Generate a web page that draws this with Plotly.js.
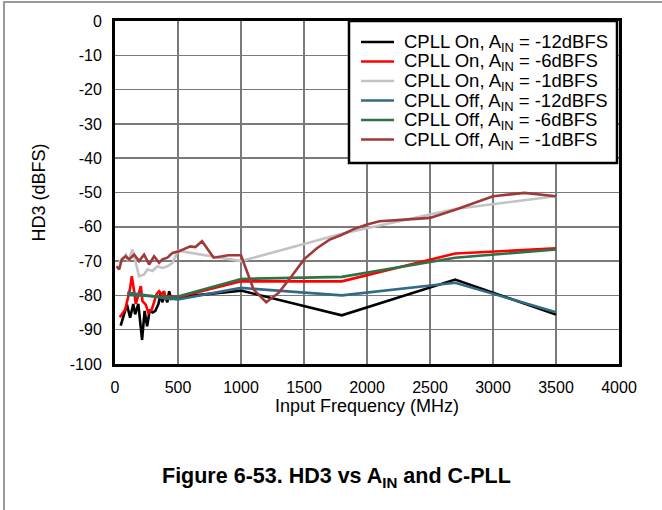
<!DOCTYPE html>
<html>
<head>
<meta charset="utf-8">
<script src="https://cdn.plot.ly/plotly-3.0.1.min.js"></script>
<style>
  html, body { margin: 0; padding: 0; background: #fff; }
  #wrap { position: relative; width: 662px; height: 510px; }
  #chart { width: 662px; height: 510px; }
  #frame { position: absolute; left: 3px; top: 1px; width: 680px; height: 520px;
           border-top: 2px solid #9a9a9a; border-left: 2px solid #9a9a9a; pointer-events: none; }
</style>
</head>
<body>
<div id="wrap"><div id="chart"></div><div id="frame"></div></div>
<script>
// Series names
const seriesNames = [
  'CPLL On, A<sub>IN</sub> = -12dBFS',
  'CPLL On, A<sub>IN</sub> = -6dBFS',
  'CPLL On, A<sub>IN</sub> = -1dBFS',
  'CPLL Off, A<sub>IN</sub> = -12dBFS',
  'CPLL Off, A<sub>IN</sub> = -6dBFS',
  'CPLL Off, A<sub>IN</sub> = -1dBFS'
];
const seriesColors = ['#000000', '#ff0000', '#c3c3c3', '#336a85', '#2f7248', '#a03a3a'];

// CPLL On, -12 dBFS
const onM12_x = [45, 95, 120, 145, 160, 185, 215, 235, 255, 275, 300, 320, 345, 360, 375, 395, 415, 430, 445, 500, 1000, 1800, 2700, 3500];
const onM12_y = [-88.8, -82.7, -86.5, -82.5, -85.5, -82.5, -93.0, -84.5, -89.0, -84.5, -85.0, -84.5, -82.5, -79.5, -82.0, -80.0, -82.0, -78.8, -81.0, -80.5, -78.6, -85.8, -75.4, -85.6];
// CPLL On, -6 dBFS
const onM6_x = [38, 81, 118, 133, 152, 165, 205, 218, 244, 265, 292, 310, 329, 350, 371, 390, 403, 429, 500, 1000, 1800, 2700, 3500];
const onM6_y = [-86.4, -84.1, -78.3, -74.4, -78.8, -82.5, -77.3, -81.7, -82.7, -85.1, -84.1, -82.2, -79.7, -78.8, -79.7, -78.8, -81.2, -80.2, -80.5, -75.9, -75.9, -67.8, -66.3];
// CPLL On, -1 dBFS
const onM1_x = [30, 86, 105, 139, 191, 231, 258, 297, 337, 376, 416, 456, 500, 1000, 1800, 2700, 3500];
const onM1_y = [-70.5, -68.1, -70.0, -66.6, -74.4, -73.9, -72.4, -72.9, -71.5, -72.0, -71.5, -70.5, -67.0, -70.0, -62.0, -54.8, -51.1];
// CPLL Off, -12 dBFS
const offM12_x = [97, 200, 300, 400, 500, 1000, 1800, 2700, 3500];
const offM12_y = [-79.2, -79.8, -80.3, -80.8, -81.2, -77.8, -80.0, -76.3, -84.9];
// CPLL Off, -6 dBFS
const offM6_x = [97, 200, 300, 400, 450, 500, 1000, 1800, 2700, 3500];
const offM6_y = [-79.9, -80.0, -80.2, -80.4, -80.6, -80.3, -75.2, -74.6, -69.0, -66.6];
// CPLL Off, -1 dBFS
const offM1_x = [12, 33, 54, 86, 112, 152, 191, 231, 271, 310, 350, 376, 416, 456, 508, 545, 598, 638, 691, 783, 900, 1000, 1100, 1200, 1300, 1400, 1500, 1600, 1700, 1800, 1900, 2000, 2100, 2300, 2500, 2700, 3000, 3250, 3500];
const offM1_y = [-71.5, -72.4, -69.5, -68.6, -69.5, -68.1, -70.0, -68.1, -71.0, -68.6, -70.5, -69.5, -69.0, -67.6, -67.1, -66.6, -65.7, -65.9, -64.2, -69.0, -68.3, -68.3, -78.3, -82.0, -79.2, -74.5, -69.5, -66.3, -63.8, -62.3, -60.6, -59.3, -58.4, -57.9, -57.4, -55.0, -51.1, -50.1, -51.1];

const xTicks = [0, 500, 1000, 1500, 2000, 2500, 3000, 3500, 4000];
const yTicks = [0, -10, -20, -30, -40, -50, -60, -70, -80, -90, -100];

const xs = [onM12_x, onM6_x, onM1_x, offM12_x, offM6_x, offM1_x];
const ys = [onM12_y, onM6_y, onM1_y, offM12_y, offM6_y, offM1_y];

const traces = xs.map((x, i) => ({
  x: x, y: ys[i], type: 'scatter', mode: 'lines', name: seriesNames[i],
  line: { color: seriesColors[i], width: 2.6 }
}));

const font = 'Liberation Sans, Arial, Helvetica, sans-serif';

// Legend drawn in paper coordinates (plot area is 504 x 343 px)
const PW = 504, PH = 343;
const px2x = p => p / PW;          // px offset from plot left -> paper
const py2y = p => 1 - p / PH;      // px offset from plot top -> paper
const legLeft = 234, legRight = 502, legBottom = 142;
const shapes = [{
  type: 'rect', xref: 'paper', yref: 'paper', layer: 'above',
  x0: px2x(legLeft), x1: px2x(legRight), y0: py2y(legBottom), y1: 1,
  fillcolor: '#ffffff', line: { color: '#000', width: 2.5 }
}];
const annotations = [];
seriesNames.forEach((name, i) => {
  const rowPx = 21 + i * 19.5;
  shapes.push({
    type: 'line', xref: 'paper', yref: 'paper', layer: 'above',
    x0: px2x(246), x1: px2x(279), y0: py2y(rowPx), y1: py2y(rowPx),
    line: { color: seriesColors[i], width: 2.6 }
  });
  annotations.push({
    xref: 'paper', yref: 'paper', x: px2x(287), y: py2y(rowPx), yshift: -1,
    xanchor: 'left', yanchor: 'middle', showarrow: false, text: name,
    font: { family: font, size: 18.5, color: '#000' }
  });
});
annotations.push({
  xref: 'paper', yref: 'paper', x: 0.4385, y: -0.331, xanchor: 'center', yanchor: 'middle',
  text: '<b>Figure 6-53. HD3 vs A<sub>IN</sub> and C-PLL</b>', showarrow: false,
  font: { family: font, size: 21.5, color: '#000' }
});

const layout = {
  width: 662, height: 510,
  margin: { l: 115, r: 43, t: 21, b: 146 },
  paper_bgcolor: '#ffffff', plot_bgcolor: '#ffffff',
  font: { family: font, color: '#000', size: 16 },
  showlegend: false,
  xaxis: {
    range: [0, 4000], tickvals: xTicks, ticktext: xTicks.map(String),
    showgrid: true, gridcolor: '#7a7a7a', gridwidth: 1.5, zeroline: false,
    showline: true, mirror: true, linecolor: '#000', linewidth: 3,
    ticks: '', ticklabelstandoff: 7,
    tickfont: { size: 16 },
    title: { text: 'Input Frequency (MHz)', font: { size: 18 }, standoff: 4 }
  },
  yaxis: {
    range: [-100, 0], tickvals: yTicks, ticktext: yTicks.map(String),
    showgrid: true, gridcolor: '#7a7a7a', gridwidth: 1.5, zeroline: false,
    showline: true, mirror: true, linecolor: '#000', linewidth: 3,
    ticks: '', ticklabelstandoff: 7,
    tickfont: { size: 16 },
    title: { text: 'HD3 (dBFS)', font: { size: 18 }, standoff: 20 }
  },
  shapes: shapes,
  annotations: annotations
};

Plotly.newPlot('chart', traces, layout, { displayModeBar: false, staticPlot: true });
</script>
</body>
</html>
